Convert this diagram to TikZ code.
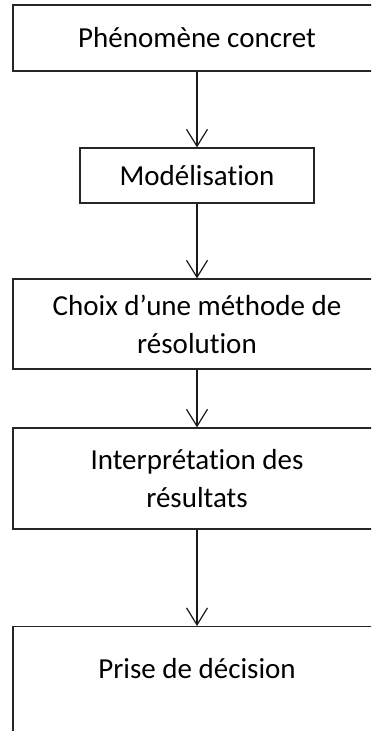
\documentclass[tikz,border=0pt]{standalone}
\usepackage{fontspec}
\setmainfont{Carlito}[Ligatures=NoCommon]
\usetikzlibrary{positioning,arrows.meta}

\begin{document}
\begin{tikzpicture}[
  x=1bp,y=-1bp,
  font=\fontsize{29bp}{38bp}\selectfont,
  box/.style={draw=black!85,line width=1.2bp,align=center,inner sep=0pt},
  wide/.style={box,minimum width=368bp},
  ar/.style={-{Straight Barb[length=17bp,width=21bp]},line width=1.2bp,draw=black!90},
]
% the boxes run past the right and bottom edges, as in the page they come from
\useasboundingbox (0,0) rectangle (371,731);
\clip (0,0) rectangle (371,731);
\node[wide,minimum height=66bp] (phen) at (197,38) {Phénomène concret};
\node[box,minimum width=234bp,minimum height=55bp] (model) at (197,175.5) {Modélisation};
\node[wide,minimum height=90bp] (choix) at (197,324) {Choix d’une méthode de\\résolution};
\node[wide,minimum height=101bp] (interp) at (197,478.5) {Interprétation des\\résultats};
\node[wide,minimum height=140bp,anchor=north] (prise) at (197,626) {};
\node (prisetxt) at (197,669) {Prise de décision};
\draw[ar] (phen) -- (model);
\draw[ar] (model) -- (choix);
\draw[ar] (choix) -- (interp);
\draw[ar] (interp) -- (prise);
\end{tikzpicture}
\end{document}
